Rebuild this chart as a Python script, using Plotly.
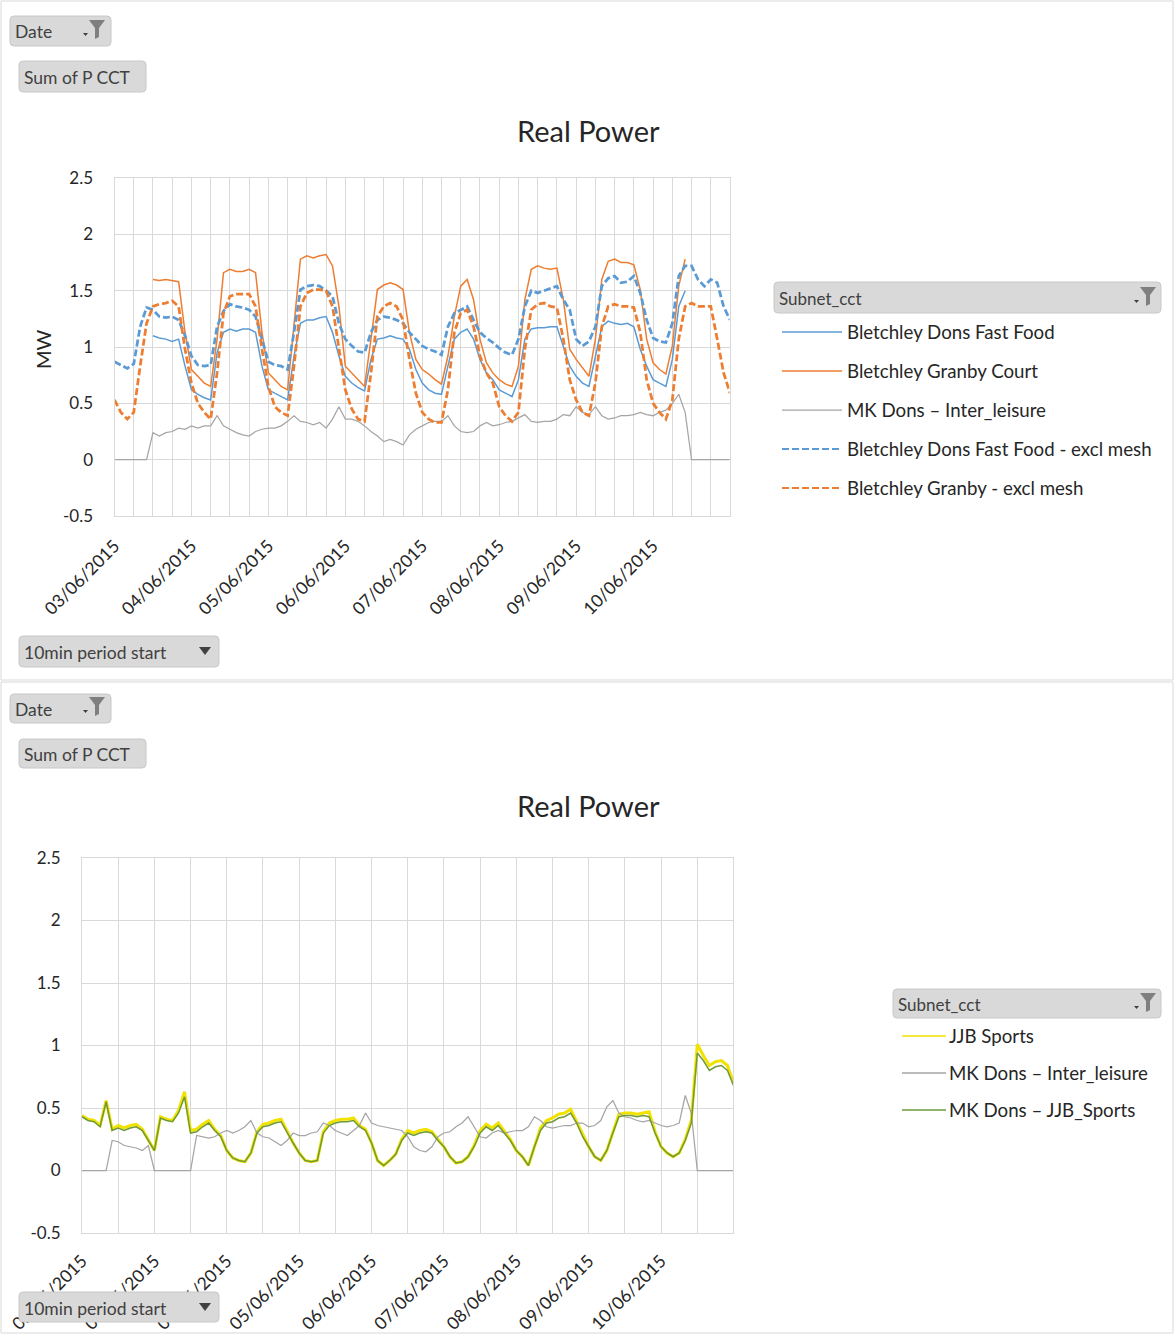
from datetime import datetime, timedelta
import plotly.graph_objects as go

W, H = 1176, 1335
FONT = "Lato"
TXT = "#262626"
GRID = "#D9D9D9"

# ---------------- data: top chart (2-hourly, 03/06/2015 00:00 .. 11/06/2015 00:00) ----------------
TOP_START = datetime(2015, 6, 3)
top_hours = list(range(0, 193, 2))

dons_fast_food = [  # Bletchley Dons Fast Food
    None, None, None, None, None, None, 1.10, 1.08, 1.07, 1.05, 1.07, 0.83,
    0.62, 0.58, 0.55, 0.53, 0.95, 1.13, 1.16, 1.14, 1.16, 1.16, 1.13, 0.83,
    0.62, 0.59, 0.56, 0.53, 0.92, 1.21, 1.24, 1.24, 1.26, 1.27, 1.13, 0.92,
    0.74, 0.68, 0.64, 0.61, 0.89, 1.07, 1.08, 1.10, 1.08, 1.07, 0.98, 0.80,
    0.68, 0.62, 0.59, 0.58, 0.83, 1.07, 1.13, 1.16, 1.07, 0.89, 0.77, 0.71,
    0.62, 0.59, 0.56, 0.71, 1.07, 1.16, 1.17, 1.17, 1.18, 1.18, 1.01, 0.83,
    0.74, 0.68, 0.65, 0.92, 1.18, 1.23, 1.21, 1.20, 1.21, 1.18, 0.98, 0.83,
    0.71, 0.68, 0.65, 0.89, 1.36, 1.50, None, None, None, None, None, None,
    None,
]
granby_court = [  # Bletchley Granby Court
    None, None, None, None, None, None, 1.60, 1.59, 1.60, 1.59, 1.58, 1.13,
    0.80, 0.74, 0.68, 0.65, 1.07, 1.66, 1.69, 1.67, 1.67, 1.69, 1.66, 1.13,
    0.77, 0.71, 0.65, 0.62, 1.21, 1.78, 1.81, 1.79, 1.81, 1.82, 1.72, 1.36,
    0.83, 0.77, 0.71, 0.65, 1.07, 1.51, 1.55, 1.57, 1.55, 1.51, 1.13, 0.89,
    0.80, 0.76, 0.71, 0.67, 0.92, 1.27, 1.54, 1.60, 1.42, 1.07, 0.86, 0.77,
    0.71, 0.67, 0.65, 0.83, 1.42, 1.69, 1.72, 1.70, 1.69, 1.70, 1.42, 0.98,
    0.89, 0.81, 0.74, 1.07, 1.60, 1.76, 1.78, 1.75, 1.75, 1.73, 1.51, 1.07,
    0.86, 0.80, 0.76, 1.01, 1.54, 1.78, None, None, None, None, None, None,
    None,
]
mk_dons_inter_top = [  # MK Dons – Inter_leisure
    0.00, 0.00, 0.00, 0.00, 0.00, 0.00, 0.24, 0.21, 0.24, 0.25, 0.28, 0.27,
    0.30, 0.28, 0.30, 0.30, 0.39, 0.30, 0.27, 0.24, 0.22, 0.21, 0.25, 0.27,
    0.28, 0.28, 0.30, 0.34, 0.39, 0.34, 0.33, 0.31, 0.33, 0.28, 0.36, 0.47,
    0.36, 0.36, 0.34, 0.30, 0.25, 0.21, 0.16, 0.18, 0.16, 0.13, 0.22, 0.27,
    0.30, 0.33, 0.34, 0.34, 0.39, 0.30, 0.25, 0.24, 0.25, 0.30, 0.33, 0.30,
    0.31, 0.33, 0.34, 0.37, 0.40, 0.34, 0.33, 0.34, 0.34, 0.36, 0.40, 0.39,
    0.47, 0.42, 0.40, 0.47, 0.39, 0.36, 0.37, 0.39, 0.39, 0.40, 0.42, 0.40,
    0.39, 0.42, 0.44, 0.50, 0.58, 0.42, 0.00, 0.00, 0.00, 0.00, 0.00, 0.00,
    0.00,
]
dons_fast_food_excl = [  # Bletchley Dons Fast Food - excl mesh
    0.87, 0.84, 0.81, 0.85, 1.18, 1.35, 1.33, 1.27, 1.26, 1.27, 1.24, 1.10,
    0.92, 0.84, 0.83, 0.84, 1.18, 1.32, 1.38, 1.36, 1.35, 1.33, 1.27, 1.07,
    0.87, 0.84, 0.83, 0.80, 1.13, 1.51, 1.54, 1.55, 1.54, 1.50, 1.45, 1.21,
    1.07, 1.01, 0.96, 0.95, 1.13, 1.24, 1.27, 1.26, 1.24, 1.21, 1.13, 1.07,
    1.01, 0.98, 0.96, 0.93, 1.18, 1.30, 1.33, 1.36, 1.24, 1.13, 1.08, 1.04,
    0.99, 0.95, 0.93, 1.07, 1.36, 1.50, 1.48, 1.50, 1.52, 1.54, 1.42, 1.33,
    1.07, 1.01, 1.05, 1.18, 1.54, 1.61, 1.63, 1.57, 1.58, 1.63, 1.48, 1.24,
    1.08, 1.05, 1.04, 1.21, 1.63, 1.72, 1.72, 1.60, 1.54, 1.60, 1.57, 1.36,
    1.24,
]
granby_excl = [  # Bletchley Granby - excl mesh
    0.53, 0.42, 0.36, 0.42, 0.83, 1.21, 1.36, 1.38, 1.39, 1.41, 1.36, 0.98,
    0.68, 0.50, 0.42, 0.36, 0.77, 1.30, 1.45, 1.47, 1.47, 1.47, 1.36, 0.98,
    0.65, 0.47, 0.42, 0.39, 0.83, 1.36, 1.48, 1.51, 1.51, 1.50, 1.36, 0.98,
    0.62, 0.45, 0.36, 0.34, 0.77, 1.27, 1.36, 1.39, 1.36, 1.24, 0.89, 0.59,
    0.42, 0.36, 0.33, 0.33, 0.62, 1.13, 1.30, 1.33, 1.18, 0.92, 0.77, 0.68,
    0.47, 0.39, 0.34, 0.42, 0.98, 1.33, 1.38, 1.39, 1.36, 1.35, 1.07, 0.71,
    0.53, 0.42, 0.39, 0.68, 1.18, 1.36, 1.38, 1.36, 1.36, 1.35, 1.13, 0.71,
    0.50, 0.42, 0.36, 0.53, 1.07, 1.36, 1.39, 1.36, 1.36, 1.36, 1.07, 0.77,
    0.59,
]

# ---------------- data: bottom chart (2-hourly, 02/06/2015 00:00 .. 11/06/2015 00:00) ----------------
BOT_START = datetime(2015, 6, 2)
bot_hours = list(range(0, 217, 2))

jjb_sports = [  # JJB Sports
    0.44, 0.41, 0.40, 0.36, 0.56, 0.33, 0.36, 0.34, 0.36, 0.37, 0.33, 0.25,
    0.16, 0.43, 0.41, 0.40, 0.48, 0.63, 0.32, 0.33, 0.37, 0.40, 0.33, 0.28,
    0.16, 0.10, 0.08, 0.07, 0.14, 0.31, 0.37, 0.38, 0.40, 0.41, 0.31, 0.22,
    0.14, 0.08, 0.07, 0.08, 0.31, 0.38, 0.40, 0.41, 0.41, 0.42, 0.36, 0.33,
    0.22, 0.08, 0.04, 0.08, 0.13, 0.25, 0.32, 0.30, 0.32, 0.33, 0.31, 0.25,
    0.19, 0.11, 0.06, 0.07, 0.11, 0.20, 0.32, 0.37, 0.34, 0.38, 0.31, 0.25,
    0.16, 0.11, 0.04, 0.19, 0.34, 0.40, 0.42, 0.45, 0.46, 0.49, 0.39, 0.28,
    0.19, 0.11, 0.08, 0.16, 0.31, 0.45, 0.46, 0.46, 0.45, 0.46, 0.47, 0.31,
    0.19, 0.14, 0.11, 0.14, 0.25, 0.40, 1.01, 0.92, 0.84, 0.87, 0.88, 0.84,
    0.70,
]
mk_dons_inter_bot = [  # MK Dons – Inter_leisure
    0.00, 0.00, 0.00, 0.00, 0.00, 0.24, 0.23, 0.20, 0.19, 0.18, 0.16, 0.20,
    0.00, 0.00, 0.00, 0.00, 0.00, 0.00, 0.00, 0.28, 0.27, 0.26, 0.27, 0.30,
    0.32, 0.30, 0.32, 0.35, 0.40, 0.30, 0.27, 0.26, 0.23, 0.20, 0.24, 0.30,
    0.28, 0.28, 0.30, 0.31, 0.38, 0.36, 0.32, 0.30, 0.28, 0.32, 0.36, 0.46,
    0.38, 0.36, 0.35, 0.34, 0.33, 0.32, 0.27, 0.19, 0.16, 0.15, 0.19, 0.27,
    0.30, 0.31, 0.35, 0.38, 0.43, 0.35, 0.27, 0.26, 0.30, 0.32, 0.30, 0.31,
    0.32, 0.32, 0.35, 0.43, 0.40, 0.35, 0.34, 0.35, 0.36, 0.36, 0.38, 0.38,
    0.35, 0.36, 0.40, 0.51, 0.56, 0.46, 0.43, 0.42, 0.40, 0.39, 0.40, 0.38,
    0.36, 0.35, 0.36, 0.38, 0.60, 0.46, 0.00, 0.00, 0.00, 0.00, 0.00, 0.00,
    0.00,
]
mk_dons_jjb = [  # MK Dons – JJB_Sports
    0.43, 0.40, 0.39, 0.35, 0.55, 0.32, 0.34, 0.32, 0.34, 0.35, 0.32, 0.24,
    0.16, 0.42, 0.40, 0.39, 0.46, 0.59, 0.30, 0.31, 0.35, 0.38, 0.32, 0.27,
    0.16, 0.10, 0.08, 0.07, 0.14, 0.30, 0.35, 0.36, 0.38, 0.39, 0.30, 0.22,
    0.14, 0.08, 0.07, 0.08, 0.30, 0.36, 0.38, 0.39, 0.39, 0.40, 0.35, 0.32,
    0.22, 0.08, 0.04, 0.08, 0.13, 0.24, 0.30, 0.28, 0.30, 0.31, 0.30, 0.24,
    0.19, 0.11, 0.06, 0.07, 0.11, 0.19, 0.30, 0.35, 0.32, 0.36, 0.30, 0.24,
    0.16, 0.11, 0.04, 0.19, 0.32, 0.38, 0.39, 0.42, 0.43, 0.46, 0.38, 0.27,
    0.19, 0.11, 0.08, 0.16, 0.30, 0.43, 0.44, 0.44, 0.43, 0.44, 0.43, 0.30,
    0.19, 0.14, 0.11, 0.14, 0.24, 0.38, 0.94, 0.88, 0.80, 0.83, 0.84, 0.80,
    0.68,
]

y_tick_vals = [-0.5, 0, 0.5, 1, 1.5, 2, 2.5]
y_tick_text = ["-0.5", "0", "0.5", "1", "1.5", "2", "2.5"]

top_series = [
    ("Bletchley Dons Fast Food", dons_fast_food, "#5B9BD5", 1.5, "solid"),
    ("Bletchley Granby Court", granby_court, "#ED7D31", 1.5, "solid"),
    ("MK Dons – Inter_leisure", mk_dons_inter_top, "#A5A5A5", 1.25, "solid"),
    ("Bletchley Dons Fast Food - excl mesh", dons_fast_food_excl, "#5B9BD5", 2.75, "7px,3px"),
    ("Bletchley Granby - excl mesh", granby_excl, "#ED7D31", 2.75, "7px,3px"),
]
bot_series = [
    ("JJB Sports", jjb_sports, "#F2E200", 3.0, "solid"),
    ("MK Dons – Inter_leisure", mk_dons_inter_bot, "#A5A5A5", 1.25, "solid"),
    ("MK Dons – JJB_Sports", mk_dons_jjb, "#6E9A3A", 1.5, "solid"),
]

top_x = [TOP_START + timedelta(hours=h) for h in top_hours]
bot_x = [BOT_START + timedelta(hours=h) for h in bot_hours]


def X(px):
    return px / W


def Y(py):
    return 1 - py / H


fig = go.Figure()
for name, vals, col, wid, dash in top_series:
    fig.add_trace(go.Scatter(x=top_x, y=vals, name=name, mode="lines", xaxis="x", yaxis="y",
                             line=dict(color=col, width=wid, dash=dash), connectgaps=False,
                             showlegend=False))
for name, vals, col, wid, dash in bot_series:
    fig.add_trace(go.Scatter(x=bot_x, y=vals, name=name, mode="lines", xaxis="x2", yaxis="y2",
                             line=dict(color=col, width=wid, dash=dash), showlegend=False))

DAY = 86400000


def xaxis_cfg(left, right, start, end, minor_hours, standoff, anchor):
    return dict(
        domain=[X(left), X(right)], type="date", range=[start, end], anchor=anchor,
        tick0=start, dtick=DAY, tickformat="%d/%m/%Y", tickangle=-45,
        showgrid=True, gridcolor=GRID, gridwidth=1,
        minor=dict(dtick=minor_hours * 3600000, tick0=start, showgrid=True, gridcolor=GRID, gridwidth=1),
        showline=True, linecolor=GRID, linewidth=1, mirror=True,
        ticks="", ticklabelstandoff=standoff, automargin=False,
        tickfont=dict(family=FONT, size=17.5, color=TXT), zeroline=False, fixedrange=True,
    )


def yaxis_cfg(top, bottom, anchor, standoff):
    return dict(
        domain=[Y(bottom), Y(top)], range=[-0.5, 2.5], anchor=anchor,
        tickvals=y_tick_vals, ticktext=y_tick_text,
        showgrid=True, gridcolor=GRID, gridwidth=1, zeroline=False,
        showline=True, linecolor=GRID, linewidth=1, mirror=True,
        ticks="", ticklabelstandoff=standoff, automargin=False,
        tickfont=dict(family=FONT, size=17, color=TXT), fixedrange=True,
    )


fig.update_layout(
    width=W, height=H, margin=dict(l=0, r=0, t=0, b=0, pad=0, autoexpand=False),
    paper_bgcolor="white", plot_bgcolor="white",
    font=dict(family=FONT, color=TXT),
    xaxis=xaxis_cfg(114.5, 729.5, "2015-06-03 00:00", "2015-06-10 23:50", 6, 12, "y"),
    yaxis=yaxis_cfg(178, 516, "x", 17),
    xaxis2=xaxis_cfg(82, 733, "2015-06-02 00:00", "2015-06-10 23:50", 12, 10, "y2"),
    yaxis2=yaxis_cfg(858, 1233, "x2", 17),
    showlegend=False,
)

shapes = []
annotations = []


def rrect(x0, y0, x1, y1, r=4):
    return (f"M {X(x0 + r)},{Y(y0)} L {X(x1 - r)},{Y(y0)} Q {X(x1)},{Y(y0)} {X(x1)},{Y(y0 + r)} "
            f"L {X(x1)},{Y(y1 - r)} Q {X(x1)},{Y(y1)} {X(x1 - r)},{Y(y1)} "
            f"L {X(x0 + r)},{Y(y1)} Q {X(x0)},{Y(y1)} {X(x0)},{Y(y1 - r)} "
            f"L {X(x0)},{Y(y0 + r)} Q {X(x0)},{Y(y0)} {X(x0 + r)},{Y(y0)} Z")


def poly(points):
    return "M " + " L ".join(f"{X(a)},{Y(b)}" for a, b in points) + " Z"


def text(x, y, s, size=16, color=TXT, anchor="left"):
    annotations.append(dict(x=X(x), y=Y(y), xref="paper", yref="paper", text=s, showarrow=False,
                            xanchor=anchor, yanchor="middle",
                            font=dict(family=FONT, size=size, color=color)))


def button(x0, y0, x1, y1, label, size=17.5):
    shapes.append(dict(type="path", path=rrect(x0, y0, x1, y1), xref="paper", yref="paper",
                       fillcolor="#D9D9D9", line=dict(color="#C8C8C8", width=1), layer="above"))
    text(x0 + 3, (y0 + y1) / 2 + 1, label, size=size, color="#404040")


def funnel(cx, yt):
    shapes.append(dict(type="path", xref="paper", yref="paper", layer="above",
                       path=poly([(cx - 8, yt), (cx + 8, yt), (cx + 2, yt + 8), (cx + 2, yt + 17),
                                  (cx - 2, yt + 19), (cx - 2, yt + 8)]),
                       fillcolor="#7F7F7F", line=dict(width=0)))
    shapes.append(dict(type="path", xref="paper", yref="paper", layer="above",
                       path=poly([(cx - 14, yt + 13), (cx - 9, yt + 13), (cx - 11.5, yt + 16)]),
                       fillcolor="#404040", line=dict(width=0)))


def dropdown(cx, cy):
    shapes.append(dict(type="path", xref="paper", yref="paper", layer="above",
                       path=poly([(cx - 6, cy - 4), (cx + 6, cy - 4), (cx, cy + 4)]),
                       fillcolor="#404040", line=dict(width=0)))


def legend_line(x0, x1, y, col, wid, dash):
    shapes.append(dict(type="line", xref="paper", yref="paper", x0=X(x0), x1=X(x1), y0=Y(y), y1=Y(y),
                       line=dict(color=col, width=wid, dash=dash), layer="above"))


# chart frames
shapes.append(dict(type="rect", xref="paper", yref="paper", x0=X(1), x1=X(1173), y0=Y(680), y1=Y(1),
                   line=dict(color="#D9D9D9", width=1), layer="below"))
shapes.append(dict(type="rect", xref="paper", yref="paper", x0=X(1), x1=X(1173), y0=Y(1333), y1=Y(682),
                   line=dict(color="#D9D9D9", width=1), layer="below"))

# ---- top chart furniture ----
button(10, 16, 111, 46, "Date")
funnel(97, 20)
button(19, 61, 146, 92, "Sum of P CCT")
button(19, 636, 219, 667, "10min period start")
dropdown(205, 651)
text(588, 131, "Real Power", size=29, anchor="center")
annotations.append(dict(x=X(43), y=Y(349), xref="paper", yref="paper", text="MW", textangle=-90,
                        showarrow=False, xanchor="center", yanchor="middle",
                        font=dict(family=FONT, size=20, color=TXT)))

button(774, 282, 1161, 313, "Subnet_cct", size=17)
funnel(1148, 287)
leg_y = [332, 371, 410, 449, 488]
for (name, vals, col, wid, dash), ly in zip(top_series, leg_y):
    legend_line(782, 842, ly, col, min(wid, 2.0), dash)
    text(845, ly, name, size=18.7)

# ---- bottom chart furniture ----
button(10, 694, 111, 723, "Date")
funnel(97, 697)
button(19, 739, 146, 768, "Sum of P CCT")
text(588, 805, "Real Power", size=29, anchor="center")

button(893, 989, 1161, 1018, "Subnet_cct", size=17)
funnel(1148, 993)
leg_y2 = [1036, 1073, 1110]
for (name, vals, col, wid, dash), ly in zip(bot_series, leg_y2):
    legend_line(902, 946, ly, col, 1.5, dash)
    text(947, ly, name, size=18.7)

button(19, 1292, 219, 1322, "10min period start")
dropdown(205, 1307)

fig.update_layout(shapes=shapes, annotations=annotations)
fig.write_html("out.html")
